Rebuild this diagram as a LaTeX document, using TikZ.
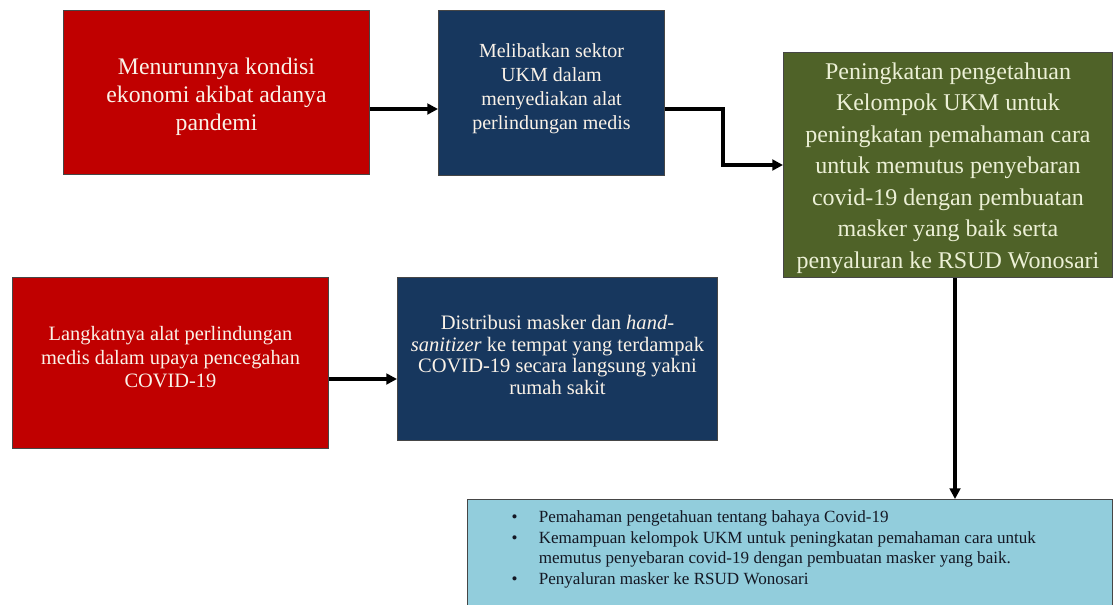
\documentclass[tikz,border=0pt]{standalone}
\usepackage{fontspec}
\setmainfont{Liberation Serif}
\usepackage{tikz}
\usetikzlibrary{arrows.meta}
\tikzset{every picture/.style={line width=0.75pt}}
\tikzset{
  box/.style={draw={rgb, 255:red, 70; green, 70; blue, 70 }, line width=0.75pt, inner sep=0pt, anchor=north west, align=center, text={rgb, 255:red, 250; green, 242; blue, 232 }},
  redbox/.style={box, fill={rgb, 255:red, 192; green, 0; blue, 0 }},
  bluebox/.style={box, fill={rgb, 255:red, 23; green, 55; blue, 94 }},
  greenbox/.style={box, fill={rgb, 255:red, 79; green, 98; blue, 40 }, text={rgb, 255:red, 236; green, 240; blue, 214 }},
  cyanbox/.style={box, fill={rgb, 255:red, 146; green, 205; blue, 220 }},
  listtext/.style={inner sep=0pt, anchor=north west, align=left, text={rgb, 255:red, 20; green, 24; blue, 36 }, font=\fontsize{12.8}{15.4}\selectfont},
  flow/.style={line width=2.5pt, -{Triangle[length=8pt,width=8pt]}}
}
% struts to move a text block down / up inside its box
\newcommand{\sink}[1]{\rule{0pt}{#1}}
\newcommand{\lift}[1]{\rule[-#1]{0pt}{#1}}

\begin{document}
\begin{tikzpicture}[x=0.75pt,y=0.75pt,yscale=-1,xscale=1]
\useasboundingbox (0,0) rectangle (1114,604);

%Box: top red
\node [redbox, minimum width=229.5pt, minimum height=123pt, font=\fontsize{17.8}{21}\selectfont] (ekonomi) at (63,10) {\sink{19.5pt}Menurunnya kondisi\\ekonomi akibat adanya\\pandemi};
%Box: top blue
\node [bluebox, minimum width=169.5pt, minimum height=123.75pt, font=\fontsize{15}{18}\selectfont] (ukm) at (438,10) {Melibatkan sektor\\UKM dalam\\menyediakan alat\\perlindungan medis\lift{9.3pt}};
%Box: green
\node [greenbox, minimum width=246.75pt, minimum height=168.75pt, font=\fontsize{18}{23.6}\selectfont] (pengetahuan) at (783,52) {\sink{16.8pt}Peningkatan pengetahuan\\Kelompok UKM untuk\\peningkatan pemahaman cara\\untuk memutus penyebaran\\covid-19 dengan pembuatan\\masker yang baik serta\\penyaluran ke RSUD Wonosari};
%Box: bottom red
\node [redbox, minimum width=237pt, minimum height=128.25pt, font=\fontsize{15.3}{17.5}\selectfont] (langka) at (12,277) {Langkatnya alat perlindungan\\medis dalam upaya pencegahan\\COVID-19\lift{9pt}};
%Box: bottom blue
\node [bluebox, minimum width=240pt, minimum height=122.25pt, font=\fontsize{15.4}{16.2}\selectfont] (distribusi) at (397,277) {Distribusi masker dan \textit{hand-}\\\textit{sanitizer} ke tempat yang terdampak\\COVID-19 secara langsung yakni\\rumah sakit\lift{6pt}};
%Box: result
\node [cyanbox, minimum width=483.75pt, minimum height=97.5pt] (hasil) at (467,499) {};
\node [listtext] (butir) at ([xshift=33pt,yshift=6.5pt]hasil.north west) {%
  \begin{tabular}{@{}l@{\hspace{16pt}}l@{}}
  \textbullet & Pemahaman pengetahuan tentang bahaya Covid-19\\
  \textbullet & Kemampuan kelompok UKM untuk peningkatan pemahaman cara untuk\\
   & memutus penyebaran covid-19 dengan pembuatan masker yang baik.\\
  \textbullet & Penyaluran masker ke RSUD Wonosari
  \end{tabular}};

%Arrows
\draw [flow] (ekonomi.east |- 0,109) -- (ukm.west |- 0,109);
\draw [flow] (ukm.east |- 0,109) -- (723,109) |- (pengetahuan.west);
\draw [flow] (langka.east |- 0,379) -- (distribusi.west |- 0,379);
\draw [flow] (pengetahuan.south -| 955,0) -- (hasil.north -| 955,0);
\end{tikzpicture}
\end{document}
